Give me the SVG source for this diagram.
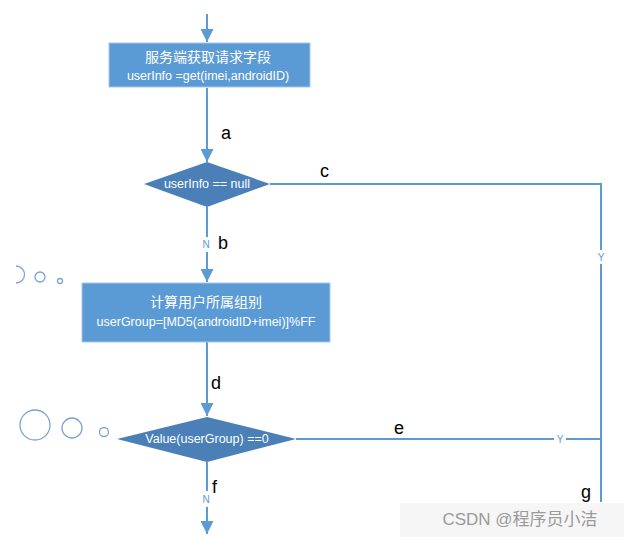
<svg xmlns="http://www.w3.org/2000/svg" width="624" height="537" viewBox="0 0 624 537">
<defs>
<style>
.ln{stroke:#5b9bd5;stroke-width:2;fill:none}
.box{fill:#5b9bd5;stroke:#a9c6e8;stroke-width:1}
.dia{fill:#4a7fb8}
.t{font-family:"Liberation Sans","Noto Sans CJK SC",sans-serif;fill:#fff;font-size:12.5px;text-anchor:middle}
.cn{font-size:14px}
.lab{font-family:"Liberation Sans",sans-serif;fill:#000;font-size:18px}
.yn{font-family:"Liberation Sans",sans-serif;fill:#5b9bd5;font-size:10px;text-anchor:middle}
.c{fill:#fff;stroke:#7aa3cf;stroke-width:1.3}
</style>
<marker id="ah" viewBox="0 0 10 10" refX="10" refY="5" markerWidth="6.5" markerHeight="6.5" markerUnits="strokeWidth" orient="auto">
<path d="M0,0 L10,5 L0,10 z" fill="#5b9bd5"/>
</marker>
</defs>
<rect width="624" height="537" fill="#fff"/>
<g id="connectors">
<line class="ln" x1="207" y1="14" x2="207" y2="42" marker-end="url(#ah)"/>
<line class="ln" x1="207" y1="88" x2="207" y2="162" marker-end="url(#ah)"/>
<line class="ln" x1="207" y1="207" x2="207" y2="237"/>
<line class="ln" x1="207" y1="252" x2="207" y2="282" marker-end="url(#ah)"/>
<line class="ln" x1="207" y1="342" x2="207" y2="416" marker-end="url(#ah)"/>
<line class="ln" x1="207" y1="462" x2="207" y2="491"/>
<line class="ln" x1="207" y1="507" x2="207" y2="534" marker-end="url(#ah)"/>
<polyline class="ln" points="270,184 601,184 601,250"/>
<line class="ln" x1="601" y1="264" x2="601" y2="502"/>
<line class="ln" x1="296" y1="439" x2="554" y2="439"/>
<line class="ln" x1="566" y1="439" x2="601" y2="439"/>
<text class="yn" x="601" y="261">Y</text>
<text class="yn" x="560" y="443">Y</text>
<text class="yn" x="206" y="248">N</text>
<text class="yn" x="206" y="503">N</text>
<text class="lab" x="221" y="139">a</text>
<text class="lab" x="218" y="249">b</text>
<text class="lab" x="320" y="177">c</text>
<text class="lab" x="211" y="389">d</text>
<text class="lab" x="394" y="434">e</text>
<text class="lab" x="212" y="493">f</text>
<text class="lab" x="581" y="498">g</text>
</g>
<g id="n1">
<rect class="box" x="109" y="43" width="201" height="44"/>
<text class="t cn" x="208" y="62">服务端获取请求字段</text>
<text class="t" x="208" y="80">userInfo =get(imei,androidID)</text>
</g>
<g id="d1">
<polygon class="dia" points="144,184 207,162 270,184 207,207"/>
<text class="t" x="207" y="188">userInfo == null</text>
</g>
<g id="n2">
<rect class="box" x="82" y="283" width="248" height="59"/>
<text class="t cn" x="206" y="307">计算用户所属组别</text>
<text class="t" x="206" y="326">userGroup=[MD5(androidID+imei)]%FF</text>
</g>
<g id="d2">
<polygon class="dia" points="117,439 207,417 296,439 207,462"/>
<text class="t" x="207" y="443">Value(userGroup) ==0</text>
</g>
<g id="bubbles1">
<path class="c" d="M16,266 A8,8 0 0 1 16,283"/>
<circle class="c" cx="40" cy="277" r="5"/>
<circle class="c" cx="60" cy="281" r="2.5"/>
</g>
<g id="bubbles2">
<circle class="c" cx="35" cy="425" r="15"/>
<circle class="c" cx="72" cy="428" r="10"/>
<circle class="c" cx="104" cy="432" r="4.5"/>
</g>
<g id="watermark">
<rect x="400" y="503" width="224" height="34" fill="#f4f4f4" opacity="0.8"/>
<text x="520" y="525" font-family="Liberation Sans,'Noto Sans CJK SC',sans-serif" font-size="17" fill="#9a9a9a" text-anchor="middle">CSDN @程序员小洁</text>
</g>
</svg>
